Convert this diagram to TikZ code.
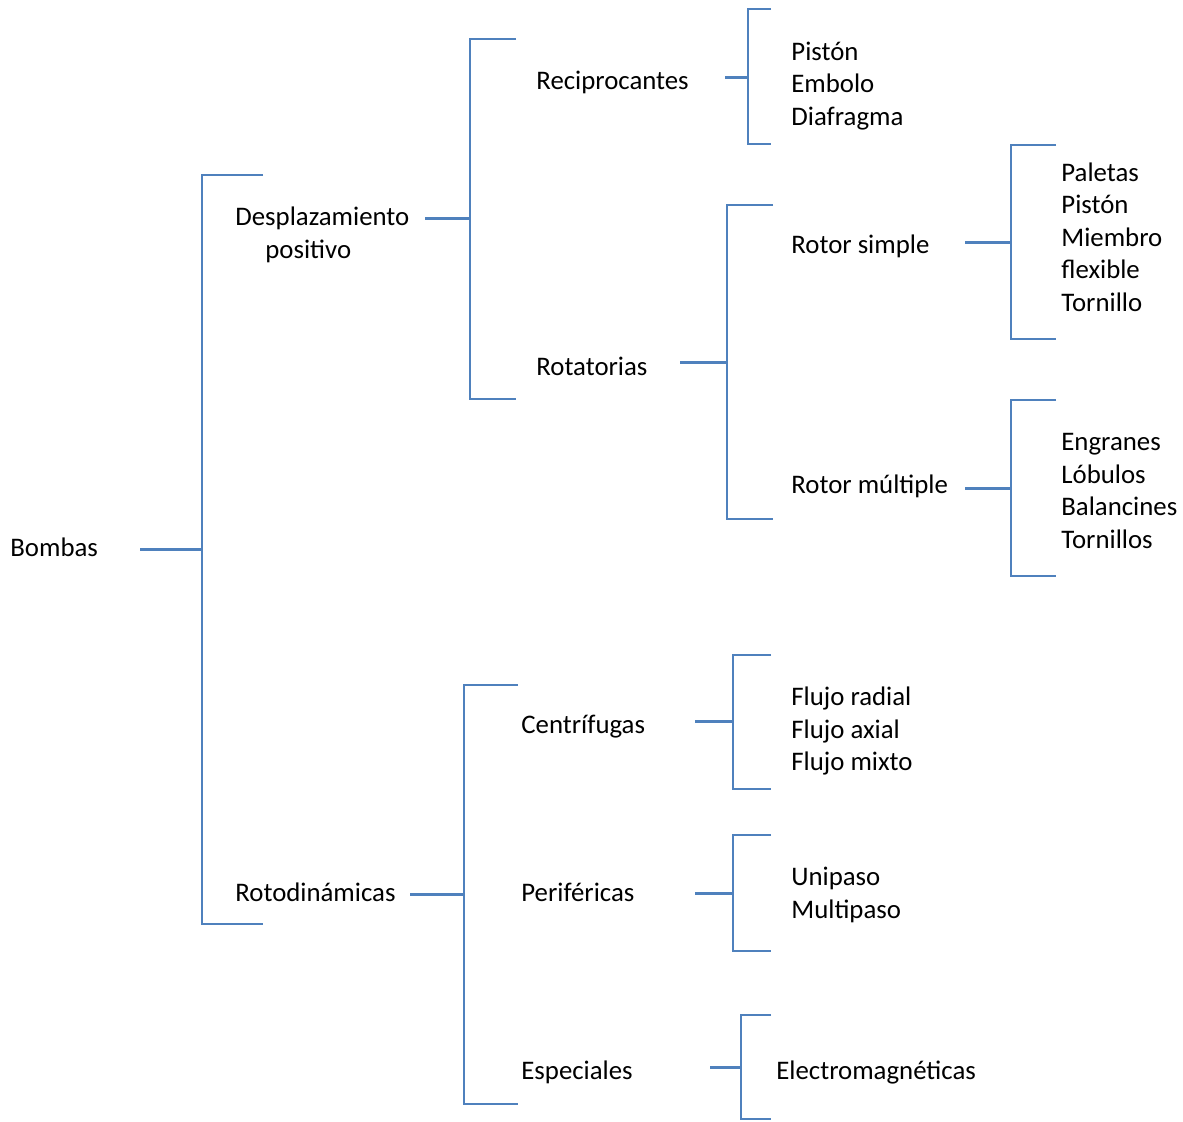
\documentclass[tikz,border=0pt]{standalone}
\usepackage{fontspec}
\setmainfont{Carlito}
\definecolor{linea}{HTML}{4F81BD}
\tikzset{
  tema/.style={anchor=west,inner sep=0pt,align=left,
    font=\fontsize{13.4}{16.3}\selectfont},
  llave/.style={draw=linea,line width=1pt},
  rama/.style={draw=linea,line width=1.5pt}
}

\begin{document}
\begin{tikzpicture}[x=0.5pt,y=-0.5pt]
\useasboundingbox (0,0) rectangle (1183,1121);

% nodos
\node[tema] (bombas) at (10,547) {Bombas};
\node[tema] (despl) at (235,235) {Desplazamiento\\\hspace{15pt}positivo};
\node[tema] (roto) at (235,892) {Rotodinámicas};
\node[tema] (recip) at (536,82) {Reciprocantes};
\node[tema] (rotat) at (536,366) {Rotatorias};
\node[tema] (centr) at (521,727) {Centrífugas};
\node[tema] (perif) at (521,892) {Periféricas};
\node[tema] (espec) at (521,1072) {Especiales};
\node[tema] (simple) at (791,246) {Rotor simple};
\node[tema] (multi) at (791,486) {Rotor múltiple};
\node[tema] (recipl) at (791,86) {Pistón\\Embolo\\Diafragma};
\node[tema] (simplel) at (1061,237) {Paletas\\Pistón\\Miembro\\flexible\\Tornillo};
\node[tema] (multil) at (1061,491) {Engranes\\Lóbulos\\Balancines\\Tornillos};
\node[tema] (centrl) at (791,731) {Flujo radial\\Flujo axial\\Flujo mixto};
\node[tema] (perifl) at (791,895) {Unipaso\\Multipaso};
\node[tema] (especl) at (776,1072) {Electromagnéticas};

% llaves: lomo/arriba/abajo/punta
\foreach \x/\t/\b/\e in {202/175/924/263, 470/39/399/516, 464/685/1104/518,
    748/9/144/771, 727/205/519/773, 1011/145/339/1056, 1011/400/576/1056,
    733/655/789/771, 733/835/951/771, 741/1015/1119/771}
  \draw[llave] (\e,\t) -| (\x,\b) -- (\e,\b);

% ramas: lomo/altura/inicio
\foreach \n/\x/\y/\s in {0/202/549/140, 1/470/218/425, 2/464/894/410,
    3/748/77/725, 4/727/362/680, 5/1011/242/965, 6/1011/488/965,
    7/733/721/695, 8/733/893/695, 9/741/1067/710}{
  \coordinate (k\n) at (\x,\y);
  \coordinate (s\n) at (\s,\y);
  \draw[rama] (s\n) -- (k\n);
}

\end{tikzpicture}
\end{document}
